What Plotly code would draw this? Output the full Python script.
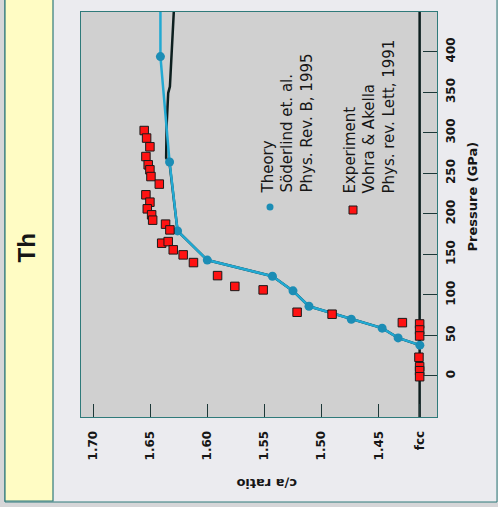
import plotly.graph_objects as go

# ---------------- data ----------------
FCC = 1.4142  # c/a of fcc in bct setting (sqrt 2)

theory_ca = [1.641, 1.633, 1.626, 1.600, 1.543, 1.525, 1.511, 1.474, 1.447, 1.433, 1.414]
theory_p = [394, 264, 179, 143, 123, 105, 86, 70, 59, 47, 38]
theory_top_ca = [1.641, 1.641]
theory_top_p = [394, 452]

black_ca = [1.6292, 1.6303, 1.6312, 1.6327, 1.6342, 1.6356, 1.6360, 1.633, 1.626, 1.600,
            1.543, 1.525, 1.511, 1.474, 1.447, 1.433, 1.4142]
black_p = [452, 419, 394, 357, 349, 308, 269, 262, 179, 143, 123, 105, 86, 70, 59, 47, 38]

exp_ca = [1.6552, 1.6531, 1.6502, 1.6537, 1.6517, 1.6502, 1.6493, 1.6420, 1.6537, 1.6502,
          1.6525, 1.6487, 1.6478, 1.6365, 1.6327, 1.6399, 1.6342, 1.6298, 1.6211, 1.6121,
          1.5910, 1.5759, 1.5511, 1.5214, 1.4908, 1.4293, 1.4142, 1.4142, 1.4142, 1.4148,
          1.4142, 1.4142, 1.4142]
exp_p = [302.8, 293.5, 282.7, 270.7, 260.5, 254.3, 246.0, 236.7, 223.5, 214.4,
         206.2, 198.8, 192.2, 187.3, 180.2, 163.8, 165.8, 155.6, 149.4, 139.9,
         123.8, 110.5, 106.2, 78.6, 76.2, 65.8, 64.2, 56.8, 49.4, 23.1,
         11.5, 6.5, -0.9]

ca_ticks = [1.70, 1.65, 1.60, 1.55, 1.50, 1.45, FCC]
ca_ticktext = ["1.70", "1.65", "1.60", "1.55", "1.50", "1.45", "fcc"]
p_ticks = [0, 50, 100, 150, 200, 250, 300, 350, 400]

theory_legend = ["Theory", "Söderlind et. al.", "Phys. Rev. B, 1995"]
exp_legend = ["Experiment", "Vohra & Akella", "Phys. rev. Lett, 1991"]

# ---------------- styles ----------------
W, H = 498, 507
L, R, T, B = 81, 437, 12, 417
PW, PH = R - L, B - T


def px(x):
    return (x - L) / PW


def py(y):
    return (B - y) / PH


OUTER = "#d6d6d8"
PANEL = "#ebebef"
YELLOW = "#fffcc4"
EDGE = "#2f7a7a"
PLOTBG = "#d0d0d0"
CYAN = "#22a9d2"
CYAN_M = "#1c8db5"
DARK = "#0c1e1e"
RED = "#ff1212"
TXT = "#161616"

fig = go.Figure()

fig.add_trace(go.Scatter(x=black_ca, y=black_p, mode="lines",
                         line=dict(color=DARK, width=2.5), hoverinfo="skip", showlegend=False))
fig.add_trace(go.Scatter(x=theory_top_ca, y=theory_top_p, mode="lines",
                         line=dict(color=CYAN, width=2.5), hoverinfo="skip", showlegend=False))
fig.add_trace(go.Scatter(x=theory_ca, y=theory_p, mode="lines+markers",
                         line=dict(color=CYAN, width=2.5),
                         marker=dict(color=CYAN_M, size=9), showlegend=False))
fig.add_trace(go.Scatter(x=exp_ca, y=exp_p, mode="markers",
                         marker=dict(symbol="square", color=RED, size=8.5,
                                     line=dict(color="#1a1a1a", width=1)),
                         showlegend=False))

shapes = [
    # panel
    dict(type="rect", xref="paper", yref="paper", x0=px(5), x1=px(497), y0=py(502), y1=py(-5),
         fillcolor=PANEL, line=dict(color=EDGE, width=1), layer="below"),
    # yellow strip
    dict(type="rect", xref="paper", yref="paper", x0=px(5), x1=px(53), y0=py(501), y1=py(-5),
         fillcolor=YELLOW, line=dict(color=EDGE, width=1.2), layer="below"),
    # plot area
    dict(type="rect", xref="paper", yref="paper", x0=0, x1=1, y0=0, y1=1,
         fillcolor=PLOTBG, line=dict(width=0), layer="below"),
    # fcc line
    dict(type="line", xref="x", yref="paper", x0=FCC, x1=FCC, y0=0, y1=1,
         line=dict(color=DARK, width=2.5), layer="below"),
    # legend symbols
    dict(type="circle", xref="paper", yref="paper", xsizemode="pixel", ysizemode="pixel",
         xanchor=px(270), yanchor=py(207), x0=-3.5, x1=3.5, y0=-3.5, y1=3.5,
         fillcolor=CYAN_M, line=dict(width=0)),
    dict(type="rect", xref="paper", yref="paper", xsizemode="pixel", ysizemode="pixel",
         xanchor=px(353), yanchor=py(210), x0=-4, x1=4, y0=-4, y1=4,
         fillcolor=RED, line=dict(color="#1a1a1a", width=1)),
]

legend_font = dict(family="DejaVu Sans", size=15, color=TXT)
annotations = [
    dict(text="Th", x=px(10), y=py(248), xref="paper", yref="paper", showarrow=False,
         textangle=-90, font=dict(family="Liberation Sans", size=24, color=TXT, weight="bold")),
    dict(text="c/a ratio", x=px(267), y=py(493), xref="paper", yref="paper", showarrow=False,
         textangle=180, font=dict(family="DejaVu Sans", size=13, color=TXT, weight="bold")),
    dict(text="Pressure (GPa)", x=px(481), y=py(197), xref="paper", yref="paper", showarrow=False,
         textangle=-90, font=dict(family="DejaVu Sans", size=13, color=TXT, weight="bold")),
    dict(text="<br>".join(theory_legend), x=px(257), y=py(196), xref="paper", yref="paper",
         xanchor="left", yanchor="bottom", align="left", showarrow=False,
         textangle=-90, font=legend_font),
    dict(text="<br>".join(exp_legend), x=px(339), y=py(196), xref="paper", yref="paper",
         xanchor="left", yanchor="bottom", align="left", showarrow=False,
         textangle=-90, font=legend_font),
]

tickfont = dict(family="DejaVu Sans", size=12, color=TXT, weight="bold")

fig.update_layout(
    width=W, height=H,
    margin=dict(l=L, r=W - R, t=T, b=H - B, pad=0),
    paper_bgcolor=OUTER,
    plot_bgcolor="rgba(0,0,0,0)",
    shapes=shapes,
    annotations=annotations,
    xaxis=dict(range=[1.7105, 1.399], tickvals=ca_ticks, ticktext=ca_ticktext,
               tickangle=-90, ticks="inside", ticklen=13, tickwidth=1.2, tickcolor="#1d3838",
               tickfont=tickfont, ticklabelstandoff=8,
               showgrid=False, zeroline=False, showline=True, mirror=True,
               linecolor=EDGE, linewidth=1),
    yaxis=dict(range=[-50.6, 449], tickvals=p_ticks, side="right",
               tickangle=-90, ticks="inside", ticklen=14, tickwidth=1.2, tickcolor="#1d3838",
               tickfont=tickfont, ticklabelstandoff=3,
               showgrid=False, zeroline=False, showline=True, mirror=True,
               linecolor=EDGE, linewidth=1),
)

fig.write_html("out.html")
